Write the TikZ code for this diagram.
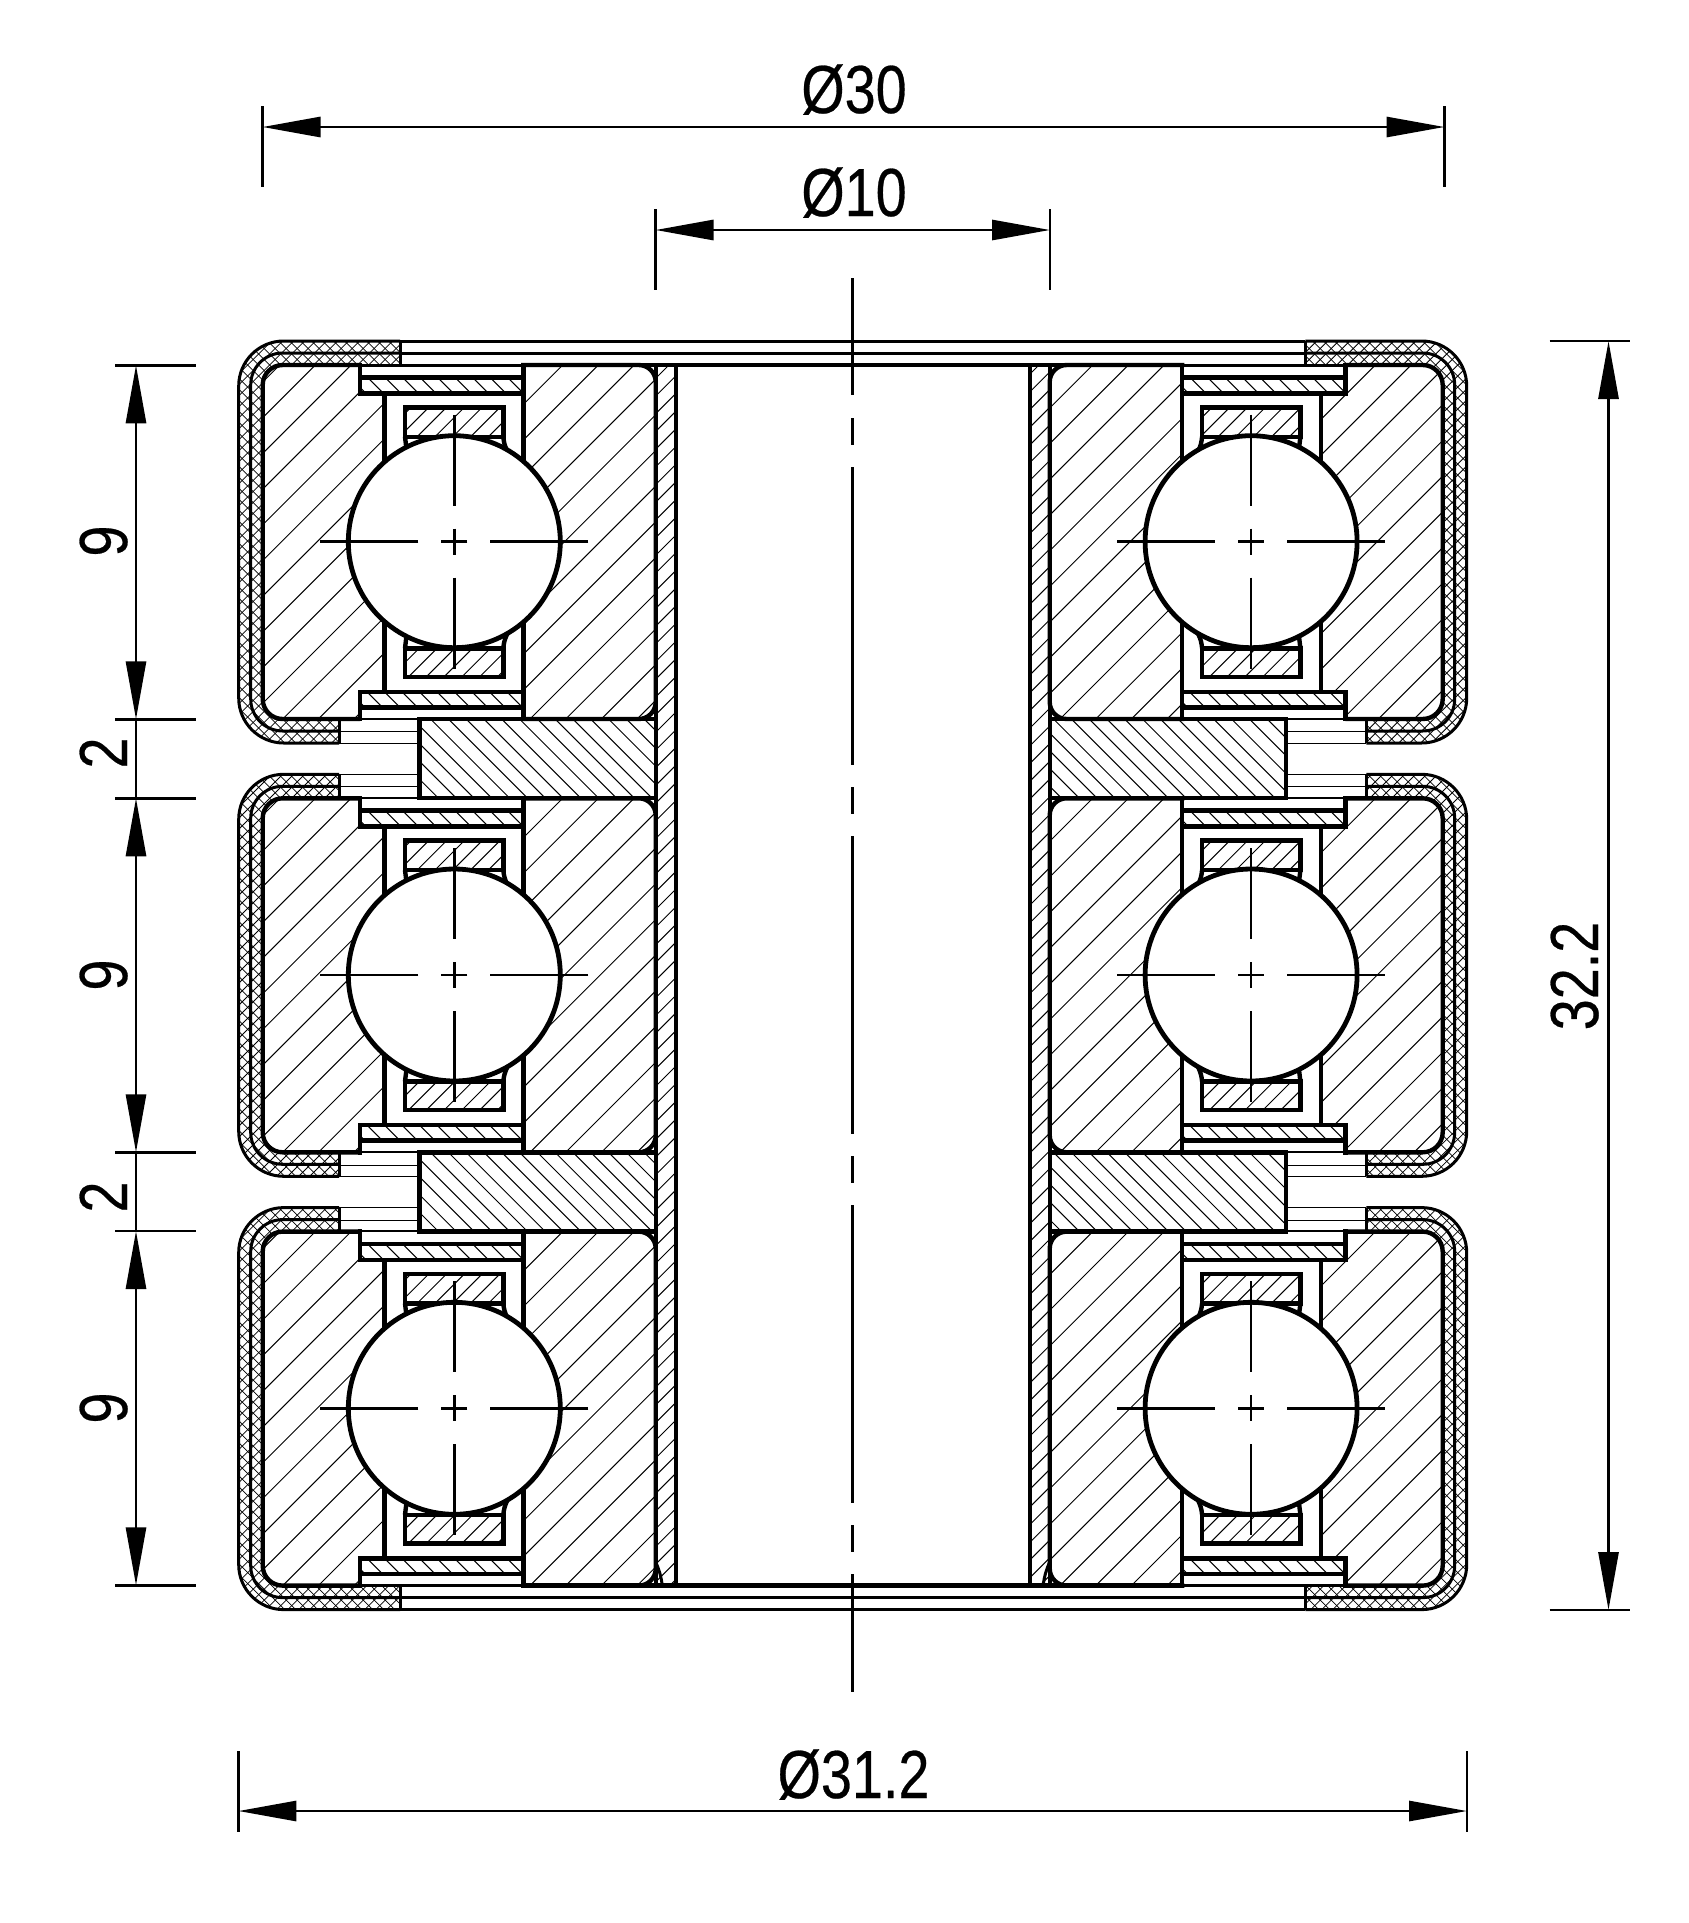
\documentclass[tikz,border=0pt]{standalone}
\usepackage{fontspec}
\setmainfont[FakeStretch=0.82,FakeBold=0.4]{Liberation Sans}
\usetikzlibrary{arrows.meta}
\tikzset{
  thickline/.style={line width=4.4pt},
  midline/.style={line width=3pt},
  hatchline/.style={line width=1pt},
  crossline/.style={line width=.75pt},
  ballline/.style={line width=4.8pt},
  axisline/.style={line width=2.7pt},
  extline/.style={line width=2.5pt},
  dimline/.style={line width=2.9pt},
  dimboth/.style={dimline,{Triangle[length=58pt,width=20pt]}-{Triangle[length=58pt,width=20pt]}},
  dimtext/.style={font=\fontsize{68pt}{68pt}\selectfont,inner sep=0pt,anchor=base},
}
% dir (1 is /, -1 is \), side, step, phase, half count
\newcommand{\hatchlines}[6][hatchline]{
  \begin{scope}[xscale=#3]
    \foreach \i in {-#6,...,#6} {
      \pgfmathsetmacro\hc{#5+\i*#4}
      \draw[#1] ({\hc+#2*60},-60) -- ({\hc-#2*1300},1300);
    }
  \end{scope}
}
% side, top y, shell end at top, shell end at bottom, phases of the two rings
\newcommand{\bearing}[6]{
  \begin{scope}[shift={(852.7,#2)},xscale=#1]
    \begin{scope}
      \clip (#3,-24) -- (569,-24) .. controls (593.9,-24) and (614,-3.9) .. (614,21) -- (614,333) .. controls (614,357.9) and (593.9,378) .. (569,378) -- (#4,378) -- (#4,354) -- (570,354) .. controls (581,354) and (590,345) .. (590,334) -- (590,20) .. controls (590,9) and (581,0) .. (570,0) -- (#3,0) -- cycle;
      \hatchlines[crossline]{1}{#1}{11}{0}{120}
      \hatchlines[crossline]{-1}{#1}{11}{0}{120}
    \end{scope}
    \draw[midline,rounded corners=45pt] (#3,-24) -- (614,-24) -- (614,378) -- (#4,378);
    \draw[midline,rounded corners=32pt] (#3,-12) -- (602,-12) -- (602,366) -- (#4,366);
    \draw[midline] (#3,-24) -- (#3,0);
    \draw[midline] (#4,354) -- (#4,378);
    \begin{scope}
      \clip (492.7,0) -- (570,0) .. controls (581,0) and (590,9) .. (590,20) -- (590,334) .. controls (590,345) and (581,354) .. (570,354) -- (492.7,354) -- (492.7,326.7) -- (468.4,326.7) -- (468.4,28.3) -- (492.7,28.3) -- cycle;
      \hatchlines{1}{#1}{35.7}{#5}{27}
    \end{scope}
    \begin{scope}
      \clip (329.4,0) -- (214,0) .. controls (204.6,0) and (197,7.6) .. (197,17) -- (197,337) .. controls (197,346.4) and (204.6,354) .. (214,354) -- (329.4,354) -- cycle;
      \hatchlines{1}{#1}{35.7}{#6}{27}
    \end{scope}
    \foreach \stripa/\stripb in {12.3/28.3,326.7/342.3} {
      \begin{scope}
        \clip (329.4,\stripa) rectangle (492.7,\stripb);
        \hatchlines{-1}{#1}{17.5}{10}{60}
      \end{scope}
      \draw[thickline] (329.4,\stripa) -- (492.7,\stripa);
      \draw[thickline] (329.4,\stripb) -- (492.7,\stripb);
    }
    \foreach \cagea/\cageb in {42.3/71.7,283.3/311.7} {
      \begin{scope}
        \clip (349.4,\cagea) rectangle (447.7,\cageb);
        \hatchlines{1}{#1}{17.8}{10}{60}
      \end{scope}
      \draw[thickline] (349.4,\cagea) rectangle (447.7,\cageb);
    }
    \draw[thickline] (349.4,71.7) to[bend left=10] (345.5,86);
    \draw[thickline] (447.7,71.7) -- (446,86);
    \draw[thickline] (349.4,283.3) to[bend right=10] (345.5,269);
    \draw[thickline] (447.7,283.3) -- (446,269);
    \draw[thickline,rounded corners=20pt] (492.7,0) -- (590,0) -- (590,354) -- (492.7,354);
    \draw[thickline] (492.7,-2.2) -- (492.7,28.3) -- (329.4,28.3);
    \draw[thickline] (492.7,356.2) -- (492.7,326.7) -- (329.4,326.7);
    \draw[thickline] (468.4,28.3) -- (468.4,326.7);
    \draw[thickline,rounded corners=17pt] (331.6,0) -- (197,0) -- (197,354) -- (331.6,354);
    \draw[thickline] (329.4,0) -- (329.4,354);
    \draw[ballline,fill=white] (398.4,176.7) circle[radius=106pt];
    \begin{scope}[shift={(398.4,176.7)}]
      \draw[axisline] (0,-127) -- (0,-36);
      \draw[axisline] (0,-13) -- (0,13);
      \draw[axisline] (0,36) -- (0,127);
      \draw[axisline] (-134,0) -- (-36,0);
      \draw[axisline] (-13,0) -- (13,0);
      \draw[axisline] (36,0) -- (134,0);
    \end{scope}
  \end{scope}
}
% side, top y of the bearing above it
\newcommand{\spacerblock}[2]{
  \begin{scope}[shift={(852.7,#2)},xscale=#1]
    \begin{scope}
      \clip (197,354) rectangle (433.4,433);
      \hatchlines{-1}{#1}{17.8}{7}{70}
    \end{scope}
    \draw[thickline] (197,354) -- (433.4,354) -- (433.4,433) -- (197,433);
    \foreach \gapy in {366.7,378.3,409.3,421.7} {
      \draw[hatchline] (433.4,\gapy) -- (513.7,\gapy);
    }
    \draw[line width=1.7pt] (433.4,354) -- (492.7,354);
    \draw[line width=1.7pt] (433.4,433) -- (492.7,433);
  \end{scope}
}
% side, phase
\newcommand{\tubewall}[2]{
  \begin{scope}[shift={(852.7,365)},xscale=#1]
    \begin{scope}
      \clip (177,0) rectangle (197,1220);
      \hatchlines{1}{#1}{17.7}{#2}{90}
    \end{scope}
    \draw[thickline] (177,0) -- (177,1220);
    \draw[thickline] (197,0) -- (197,1220);
    \draw[midline] (197,1197) to[bend right=8] (190.5,1220);
  \end{scope}
}
\begin{document}
\begin{tikzpicture}[x=1pt,y=-1pt]
  \useasboundingbox (0,0) rectangle (1689,1923);
  \tubewall{-1}{-166}
  \tubewall{1}{204}
  \foreach \sidex/\pout/\pinn in {-1/33.9/31.3,1/22.9/25.8} {
    \bearing{\sidex}{365}{452.7}{513.7}{\pout}{\pinn}
    \bearing{\sidex}{798.3}{513.7}{513.7}{\pout}{\pinn}
    \bearing{\sidex}{1231.6}{513.7}{452.7}{\pout}{\pinn}
    \spacerblock{\sidex}{365}
    \spacerblock{\sidex}{798.3}
  }
  \foreach \liney in {341,353,1597.3,1609.3} {
    \draw[midline] (400,\liney) -- (1305.4,\liney);
  }
  \foreach \liney in {365,1585.6} {
    \draw[midline] (360,\liney) -- (1345.4,\liney);
    \draw[thickline] (523.3,\liney) -- (1182.1,\liney);
  }
  \draw[axisline,dash pattern=on 117pt off 23pt on 27pt off 22pt on 298pt off 22pt on 27pt off 22pt on 298pt off 22pt on 27pt off 22pt on 298pt off 22pt on 27pt off 22pt on 130pt off 200pt] (852.5,278) -- (852.5,1692);
  % upper dimensions
  \coordinate (outerl) at (262.5,127);
  \coordinate (outerr) at (1444.5,127);
  \coordinate (borel) at (655.5,230);
  \coordinate (borer) at (1050,230);
  \draw[dimboth] (outerl) -- (outerr);
  \draw[dimboth] (borel) -- (borer);
  \draw[extline] (outerl) ++(0,-21) -- ++(0,81);
  \draw[extline] (outerr) ++(0,-21) -- ++(0,81);
  \draw[extline] (borel) ++(0,-21) -- ++(0,81);
  \draw[extline] (borer) ++(0,-21) -- ++(0,81);
  \node[dimtext] (outertext) at (854,113) {Ø30};
  \node[dimtext] (boretext) at (854,216) {Ø10};
  % left dimensions
  \coordinate (ha) at (136,365.3);
  \coordinate (hb) at (136,719.3);
  \coordinate (hc) at (136,798.3);
  \coordinate (hd) at (136,1152.3);
  \coordinate (he) at (136,1231);
  \coordinate (hf) at (136,1585.3);
  \draw[dimboth] (ha) -- (hb);
  \draw[dimline] (hb) -- (hc);
  \draw[dimboth] (hc) -- (hd);
  \draw[dimline] (hd) -- (he);
  \draw[dimboth] (he) -- (hf);
  \foreach \hname in {ha,hb,hc,hd,he,hf} {
    \draw[extline] (\hname) ++(-21,0) -- ++(81,0);
  }
  \node[dimtext,rotate=90] (nine1) at (127,541) {9};
  \node[dimtext,rotate=90] (two1) at (127,753) {2};
  \node[dimtext,rotate=90] (nine2) at (127,975) {9};
  \node[dimtext,rotate=90] (two2) at (127,1197) {2};
  \node[dimtext,rotate=90] (nine3) at (127,1408) {9};
  % right and lower dimensions
  \coordinate (tall) at (1608.5,341);
  \coordinate (talr) at (1608.5,1610);
  \draw[dimboth] (tall) -- (talr);
  \draw[extline] (tall) ++(-59,0) -- ++(80,0);
  \draw[extline] (talr) ++(-59,0) -- ++(80,0);
  \node[dimtext,rotate=90] (talltext) at (1598,976) {32.2};
  \coordinate (widel) at (238.4,1811);
  \coordinate (wider) at (1467,1811);
  \draw[dimboth] (widel) -- (wider);
  \draw[extline] (widel) ++(0,-60) -- ++(0,81);
  \draw[extline] (wider) ++(0,-60) -- ++(0,81);
  \node[dimtext] (widetext) at (853.5,1798) {Ø31.2};
\end{tikzpicture}
\end{document}
